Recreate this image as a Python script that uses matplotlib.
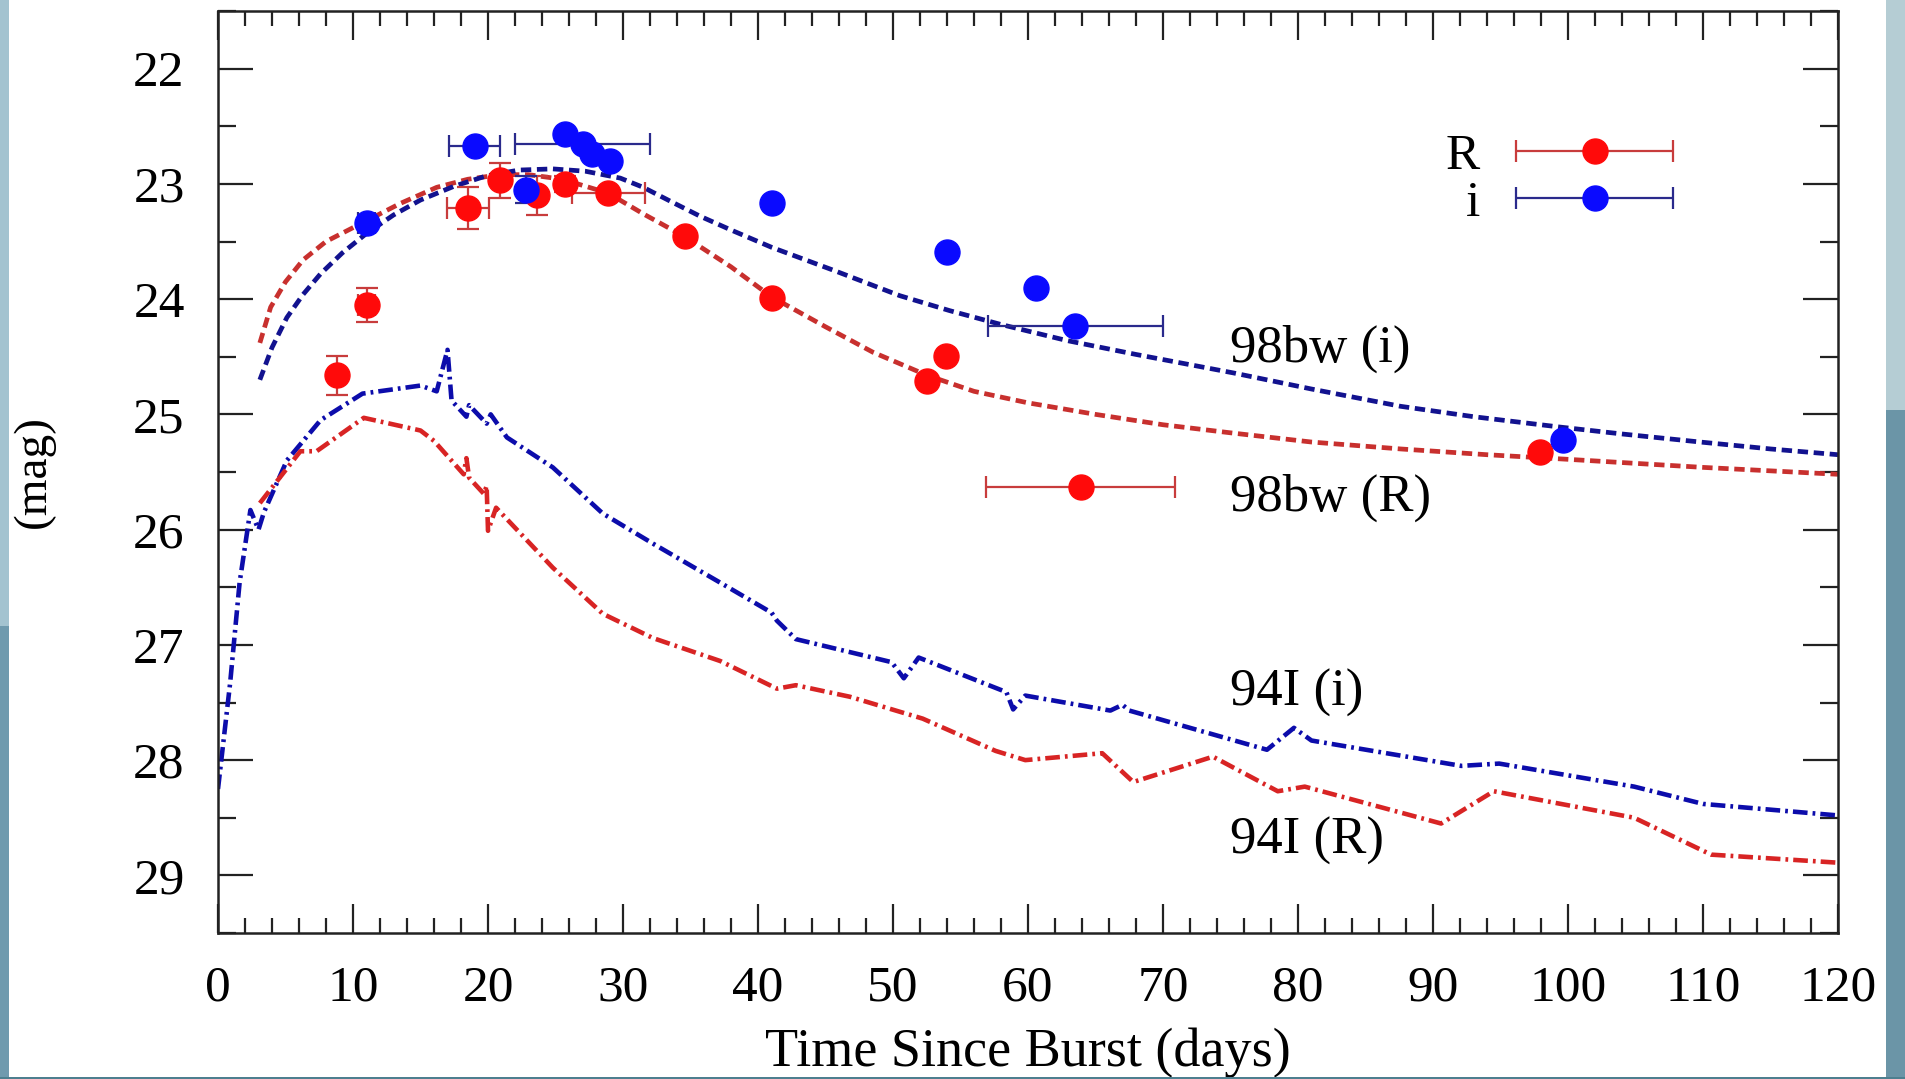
import numpy as np
import matplotlib
matplotlib.use('Agg')
import matplotlib.pyplot as plt
from matplotlib.patches import Rectangle
from matplotlib.container import ErrorbarContainer
from matplotlib.legend_handler import HandlerErrorbar

nan = np.nan

# afterglow photometry, R band (days, mag, errors; nan = no bar)
r_t      = np.array([8.8, 11.0, 18.5, 20.9, 23.6, 25.7, 28.9, 34.6, 41.0, 52.5, 53.9, 63.9, 97.9])
r_mag    = np.array([24.66, 24.05, 23.21, 22.97, 23.10, 23.00, 23.08, 23.45, 23.99, 24.71, 24.49, 25.63, 25.33])
r_terr   = np.array([nan, 0.6, 1.55, nan, nan, nan, 2.7, nan, nan, nan, nan, 7.0, nan])
r_magerr = np.array([0.17, 0.15, 0.18, 0.15, 0.17, 0.07, nan, nan, nan, nan, nan, nan, nan])

# afterglow photometry, i band
i_t      = np.array([11.0, 19.0, 22.8, 25.7, 27.0, 27.7, 29.0, 41.0, 54.0, 60.6, 63.5, 99.6])
i_mag    = np.array([23.34, 22.67, 23.05, 22.57, 22.65, 22.74, 22.80, 23.17, 23.59, 23.90, 24.23, 25.22])
i_terr   = np.array([0.6, 1.9, nan, nan, 5.0, nan, nan, nan, nan, nan, 6.5, nan])
i_magerr = np.array([nan, nan, 0.12, nan, nan, nan, nan, nan, nan, nan, nan, nan])

# SN 1998bw template curves
bw_r_t   = [3.1, 3.9, 5.0, 6.3, 8.0, 11.0, 13.5, 16.2, 18.5, 20.9, 23.0, 25.5, 28.9, 31.5,
            34.6, 38.0, 41.0, 45.0, 48.5, 52.5, 56.0, 60.0, 65.0, 70.0, 75.0, 81.0, 87.6,
            94.0, 100.0, 110.0, 120.0]
bw_r_mag = [24.38, 24.07, 23.85, 23.66, 23.50, 23.32, 23.17, 23.03, 22.96, 22.92, 22.92, 22.96,
            23.08, 23.26, 23.46, 23.72, 23.98, 24.24, 24.46, 24.66, 24.80, 24.90, 25.00, 25.09,
            25.16, 25.24, 25.30, 25.35, 25.39, 25.46, 25.52]
bw_i_t   = [3.1, 4.0, 5.1, 6.3, 7.6, 9.2, 11.0, 13.0, 15.0, 17.5, 19.9, 22.3, 24.8, 27.2,
            29.8, 31.5, 33.5, 35.7, 38.0, 41.0, 45.6, 50.5, 54.2, 58.0, 62.9, 68.0, 75.2,
            81.0, 87.6, 93.0, 99.4, 104.0, 109.8, 115.0, 120.0]
bw_i_mag = [24.70, 24.42, 24.16, 23.96, 23.78, 23.60, 23.43, 23.27, 23.14, 23.02, 22.93, 22.88,
            22.87, 22.89, 22.95, 23.03, 23.15, 23.28, 23.40, 23.55, 23.75, 23.97, 24.10, 24.22,
            24.36, 24.48, 24.64, 24.78, 24.93, 25.02, 25.11, 25.17, 25.24, 25.30, 25.35]

# SN 1994I template curves
sn94_i_t   = [0.0, 0.9, 1.6, 2.4, 3.0, 3.4, 5.1, 7.6, 10.7, 15.0, 16.2, 17.0, 17.3, 18.4, 18.6,
              19.9, 20.2, 21.4, 24.8, 28.5, 32.2, 37.2, 41.0, 41.4, 42.8, 49.9, 50.8, 51.9,
              58.4, 58.9, 59.8, 66.1, 67.0, 67.5, 77.7, 79.7, 81.0, 92.1, 94.9, 104.9, 110.0,
              120.0]
sn94_i_mag = [28.25, 27.33, 26.46, 25.83, 26.00, 25.85, 25.40, 25.05, 24.82, 24.75, 24.80,
              24.44, 24.88, 25.02, 24.92, 25.08, 25.00, 25.20, 25.46, 25.86, 26.12, 26.46,
              26.72, 26.79, 26.95, 27.15, 27.29, 27.11, 27.41, 27.56, 27.44, 27.57, 27.52,
              27.57, 27.91, 27.72, 27.83, 28.05, 28.03, 28.23, 28.38, 28.48]
sn94_r_t   = [3.1, 6.1, 7.3, 10.8, 15.0, 16.0, 18.2, 18.4, 18.6, 19.7, 19.9, 20.0, 20.6, 24.8,
              28.5, 32.2, 37.2, 41.4, 42.8, 46.8, 52.2, 57.6, 59.8, 65.5, 67.8, 73.7, 78.5,
              80.5, 90.6, 94.5, 104.9, 110.6, 120.0]
sn94_r_mag = [25.77, 25.32, 25.32, 25.03, 25.14, 25.23, 25.52, 25.38, 25.55, 25.69, 25.62,
              26.01, 25.81, 26.33, 26.73, 26.94, 27.14, 27.38, 27.35, 27.45, 27.64, 27.92,
              28.00, 27.94, 28.19, 27.97, 28.27, 28.23, 28.55, 28.27, 28.50, 28.82, 28.89]

plt.rcParams['font.family'] = ['Liberation Serif', 'DejaVu Serif']
plt.rcParams['font.size'] = 37

fig = plt.figure(figsize=(19.05, 10.79), dpi=100)

# slide background peeking out at the edges
fig.add_artist(Rectangle((0, 0.42), 9/1905, 0.58, transform=fig.transFigure, color='#a3c3d0', lw=0))
fig.add_artist(Rectangle((0, 0), 9/1905, 0.42, transform=fig.transFigure, color='#6f9aae', lw=0))
fig.add_artist(Rectangle((1886/1905, 0.62), 19/1905, 0.38, transform=fig.transFigure, color='#b5cdd4', lw=0))
fig.add_artist(Rectangle((1886/1905, 0), 19/1905, 0.62, transform=fig.transFigure, color='#6b95a7', lw=0))
fig.add_artist(Rectangle((0, 0), 1, 2/1079, transform=fig.transFigure, color='#4d7f8f', lw=0))

ax = fig.add_axes([218/1905, 146/1079, 1620/1905, 922/1079])

red_c, blue_c = '#ff0a0a', '#0a0aff'
red_e, blue_e = '#c83c3c', '#2a2a8c'

# template curves
ax.plot(bw_r_t, bw_r_mag, color='#c8302e', lw=3.4, dashes=(2.2, 1.2))
ax.plot(bw_i_t, bw_i_mag, color='#12128f', lw=3.4, dashes=(2.2, 1.2))
ax.plot(sn94_i_t, sn94_i_mag, color='#0c0cab', lw=3.3, dashes=(3.2, 1.1, 0.6, 1.1))
ax.plot(sn94_r_t, sn94_r_mag, color='#d82424', lw=3.3, dashes=(3.2, 1.1, 0.6, 1.1))

err_kw = dict(fmt='o', ms=18, capsize=8, elinewidth=1.6, capthick=1.6, zorder=5)

# points with magnitude errors
m = ~np.isnan(r_magerr)
ax.errorbar(r_t[m], r_mag[m], xerr=r_terr[m], yerr=r_magerr[m], color=red_c, ecolor=red_e,
            mec=red_c, **err_kw)
r_eb = ax.errorbar(r_t[~m], r_mag[~m], xerr=r_terr[~m], color=red_c, ecolor=red_e,
                   mec=red_c, label='R', **err_kw)
m = ~np.isnan(i_magerr)
ax.errorbar(i_t[m], i_mag[m], yerr=i_magerr[m], color=blue_c, ecolor=blue_e,
            mec=blue_c, **err_kw)
i_eb = ax.errorbar(i_t[~m], i_mag[~m], xerr=i_terr[~m], color=blue_c, ecolor=blue_e,
                   mec=blue_c, label='i', **err_kw)

ax.text(75.0, 24.43, '98bw (i)', va='center', fontsize=38)
ax.text(75.0, 25.72, '98bw (R)', va='center', fontsize=38)
ax.text(75.0, 27.42, '94I (i)', va='center', fontsize=38)
ax.text(75.0, 28.70, '94I (R)', va='center', fontsize=38)

ax.legend(handles=[r_eb, i_eb], loc='upper left', bbox_to_anchor=(0.758, 0.868),
          frameon=False, markerfirst=False, handlelength=3.05, handletextpad=0.7,
          labelspacing=0.0, borderpad=0, borderaxespad=0,
          handler_map={ErrorbarContainer: HandlerErrorbar(xerr_size=1.525)})

ax.set_xlim(0, 120)
ax.set_ylim(29.5, 21.5)
ax.set_xticks(np.arange(0, 121, 10))
ax.set_xticks(np.arange(0, 121, 2), minor=True)
ax.set_yticks(np.arange(22, 30, 1))
ax.set_yticks(np.arange(21.5, 29.6, 0.5), minor=True)
ax.tick_params(which='both', direction='in', top=True, right=True, width=1.6, color='#222222')
ax.tick_params(axis='x', which='major', length=21, pad=23)
ax.tick_params(axis='x', which='minor', length=11)
ax.tick_params(axis='y', which='major', length=25, pad=24)
ax.tick_params(axis='y', which='minor', length=13)
for s in ax.spines.values():
    s.set_linewidth(1.8)
    s.set_color('#222222')

ax.set_xlabel('Time Since Burst (days)', va='center', fontsize=39)
ax.xaxis.set_label_coords(0.5, -0.130)
ax.set_ylabel('(mag)', va='center', fontsize=34)
ax.yaxis.set_label_coords(-0.114, 0.5)

fig.savefig('out.png', dpi=100)
